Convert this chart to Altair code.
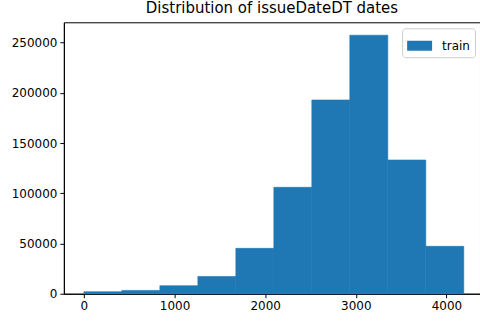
import altair as alt
import pandas as pd

bin_start = [0, 419.1, 838.2, 1257.3, 1676.4, 2095.5, 2514.6, 2933.7, 3352.8, 3771.9]
bin_end = [419.1, 838.2, 1257.3, 1676.4, 2095.5, 2514.6, 2933.7, 3352.8, 3771.9, 4191.0]
counts = [2000, 3300, 8000, 17200, 45200, 106000, 193000, 257500, 133200, 47200]
series = ["train"] * 10

df = pd.DataFrame({"start": bin_start, "end": bin_end, "count": counts, "series": series})

x_ticks = [0, 1000, 2000, 3000, 4000]
y_ticks = [0, 50000, 100000, 150000, 200000, 250000]

chart = alt.Chart(df).mark_rect(color="#1f77b4", stroke="#1f77b4", strokeWidth=0.6).encode(
    x=alt.X("start:Q", scale=alt.Scale(domain=[-221, 4370], nice=False, zero=False),
            axis=alt.Axis(values=x_ticks, title=None, grid=False, format="d",
                          labelFontSize=12, labelFont="DejaVu Sans", labelColor="#000",
                          tickSize=4, tickColor="#000", domainColor="#000",
                          labelPadding=3, labelFlush=False)),
    x2="end:Q",
    y=alt.Y("count:Q", scale=alt.Scale(domain=[0, 270375], nice=False),
            axis=alt.Axis(values=y_ticks, title=None, grid=False, format="d",
                          labelFontSize=12, labelFont="DejaVu Sans", labelColor="#000",
                          tickSize=4, tickColor="#000", domainColor="#000",
                          labelPadding=3)),
    y2=alt.datum(0),
    fill=alt.Fill("series:N", scale=alt.Scale(range=["#1f77b4"]),
                  legend=alt.Legend(title=None, orient="none", legendX=339, legendY=6,
                                    symbolType="M-1,-0.4H1V0.4H-1Z", symbolSize=625,
                                    symbolStrokeWidth=0, labelFontSize=12,
                                    labelFont="DejaVu Sans", labelColor="#000",
                                    strokeColor="#cccccc", fillColor="white",
                                    cornerRadius=3, padding=5, labelOffset=10)),
).properties(
    width=417,
    height=272,
    title=alt.TitleParams("Distribution of issueDateDT dates", fontSize=15,
                          font="DejaVu Sans", fontWeight="normal", color="#000",
                          anchor="middle", offset=6),
    autosize=alt.AutoSizeParams(type="none"),
    padding={"left": 64, "top": 22, "right": 0, "bottom": 31},
).configure_view(stroke="#000", strokeWidth=1)

chart.save("out.html", embed_options={"renderer": "svg", "actions": False})
